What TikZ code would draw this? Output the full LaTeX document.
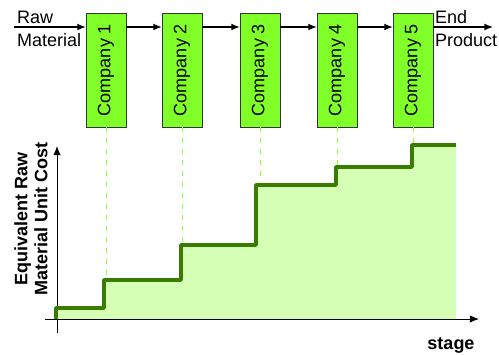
\documentclass[tikz,border=0pt]{standalone}
\usepackage{fontspec}
\usepackage{tikz}
\usetikzlibrary{arrows.meta, positioning}
\setmainfont{Liberation Sans}
\definecolor{boxgreen}{RGB}{128,255,40}
\definecolor{stepgreen}{RGB}{56,125,0}
\definecolor{areagreen}{RGB}{214,255,182}
\definecolor{guidegreen}{RGB}{140,255,60}

\begin{document}
\begin{tikzpicture}[x=1pt, y=-1pt, font=\fontsize{18}{20}\selectfont,
    company/.style={draw=black!80, fill=boxgreen, minimum width=40pt, minimum height=114pt, inner sep=0pt},
    flow/.style={-{Latex[length=3mm, width=2.4mm]}, line width=1.2pt},
    guide/.style={guidegreen, dashed, dash pattern=on 5pt off 6pt, line width=0.8pt},
    axis/.style={-{Latex[length=3.2mm, width=2.6mm]}, line width=0.9pt}]
                \useasboundingbox (0, 0) rectangle (499, 355);

                % supply chain
                \node[company] (c1) at (106, 70) {\rotatebox{90}{Company 1}};
                \node[company] (c2) at (182, 70) {\rotatebox{90}{Company 2}};
                \node[company] (c3) at (260, 70) {\rotatebox{90}{Company 3}};
                \node[company] (c4) at (337, 70) {\rotatebox{90}{Company 4}};
                \node[company] (c5) at (413, 70) {\rotatebox{90}{Company 5}};
                \coordinate (in) at (14, 27);
                \coordinate (out) at (493, 27);
                \node[anchor=south west, inner sep=0pt] (raw) at (17, 24) {Raw};
                \node[anchor=north west, inner sep=0pt] (mat) at (17, 33) {Material};
                \node[anchor=south west, inner sep=0pt] (end) at (435, 24) {End};
                \node[anchor=north west, inner sep=0pt] (prod) at (435, 33) {Product};

                \draw[flow] (in) -- (c1.west |- in);
                \draw[flow] (c1.east |- in) -- (c2.west |- in);
                \draw[flow] (c2.east |- in) -- (c3.west |- in);
                \draw[flow] (c3.east |- in) -- (c4.west |- in);
                \draw[flow] (c4.east |- in) -- (c5.west |- in);
                \draw[flow] (c5.east |- in) -- (out);

                % cost steps
                \coordinate (s0) at (56, 308);
                \coordinate (s1) at (104, 280);
                \coordinate (s2) at (181, 245);
                \coordinate (s3) at (256, 185);
                \coordinate (s4) at (336, 167);
                \coordinate (s5) at (412, 145);
                \coordinate (send) at (456, 145);
                \fill[areagreen] (56, 319) -- (s0) -| (s1) -| (s2) -| (s3) -| (s4) -| (s5) -- (send) -- (456, 319) -- cycle;

                \draw[guide] (c1.south) -- (c1.south |- s1);
                \draw[guide] (c2.south) -- (c2.south |- s2);
                \draw[guide] (c3.south) -- (c3.south |- s3);
                \draw[guide] (c4.south) -- (c4.south |- s4);
                \draw[guide] (c5.south) -- (c5.south |- s5);

                % axes
                \coordinate (o) at (57, 319);
                \draw[axis] (45, 319) -- (479, 319);
                \draw[axis] (57, 333) -- (57, 146);
                \draw[stepgreen, line width=3.8pt, line join=round] (56, 319) -- (s0) -| (s1) -| (s2) -| (s3) -| (s4) -| (s5) -- (send);

                \node[font=\fontsize{18}{20}\selectfont\bfseries, align=center, rotate=90, inner sep=0pt] (ylab) at (31, 219) {Equivalent Raw\\Material Unit Cost};
                \node[font=\fontsize{18}{20}\selectfont\bfseries, inner sep=0pt] (xlab) at (451, 346) {stage};
            \end{tikzpicture}
\end{document}
